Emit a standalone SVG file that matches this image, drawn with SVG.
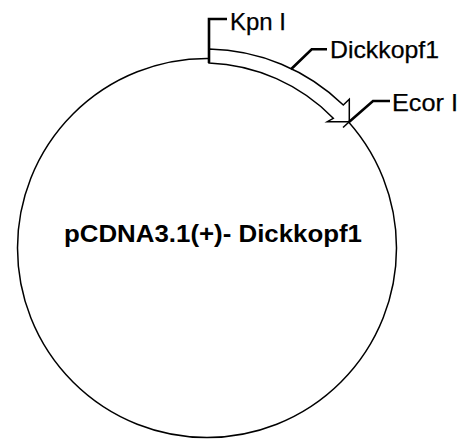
<svg xmlns="http://www.w3.org/2000/svg" width="460" height="439" viewBox="0 0 460 439">
<style>
.bg{fill:#fff}
.thin{fill:none;stroke:#000;stroke-width:1.5}
.arrow{fill:#fff;stroke:#000;stroke-width:1.5;stroke-linejoin:miter}
.lead{fill:none;stroke:#000;stroke-width:2.6;stroke-linejoin:miter}
.lbl{font-family:"Liberation Sans",Arial,sans-serif;font-size:24px;fill:#000;stroke:#000;stroke-width:0.25}
.title{font-family:"Liberation Sans",Arial,sans-serif;font-size:23px;font-weight:bold;fill:#000}
</style>
<rect class="bg" x="0" y="0" width="460" height="439"/>
<g id="plasmid">
<circle class="thin" cx="207" cy="248" r="189.5"/>
<text class="title" x="64" y="241.5" textLength="298" lengthAdjust="spacingAndGlyphs">pCDNA3.1(+)- Dickkopf1</text>
</g>
<g id="insert">
<path class="arrow" d="M209,49 A198,198 0 0 1 343.3,105 L349.3,99.3 L349.3,121.7 L327.3,121.7 L333.3,118.3 A183,183 0 0 0 209,63 Z"/>
</g>
<g id="connectors">
<path class="lead" d="M209,63 V19 H227"/>
<path class="lead" d="M291,69.3 L311.7,49.3 H327"/>
<path class="lead" d="M349.3,121.7 L373,101 H390"/>
<path class="thin" d="M349.3,121.7 L343,127.5"/>
</g>
<g id="label-kpn"><text class="lbl" x="230" y="29.5" textLength="56" lengthAdjust="spacingAndGlyphs">Kpn I</text></g>
<g id="label-dkk"><text class="lbl" x="330" y="58.3" textLength="109" lengthAdjust="spacingAndGlyphs">Dickkopf1</text></g>
<g id="label-ecor"><text class="lbl" x="392" y="110.5" textLength="66" lengthAdjust="spacingAndGlyphs">Ecor I</text></g>
</svg>
